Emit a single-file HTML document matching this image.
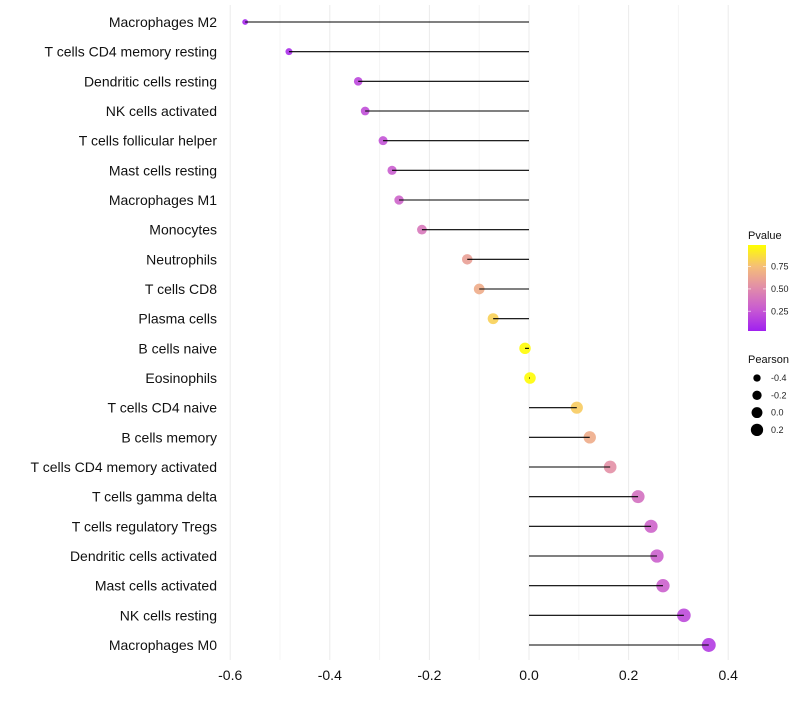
<!DOCTYPE html>
<html><head><meta charset="utf-8"><style>
body{margin:0;background:#fff;font-family:"Liberation Sans",sans-serif}
svg text{font-family:"Liberation Sans",sans-serif}
</style></head><body>
<svg id="c" width="800" height="700"></svg>
<script>
const cells=["Macrophages M2","T cells CD4 memory resting","Dendritic cells resting","NK cells activated","T cells follicular helper","Mast cells resting","Macrophages M1","Monocytes","Neutrophils","T cells CD8","Plasma cells","B cells naive","Eosinophils","T cells CD4 naive","B cells memory","T cells CD4 memory activated","T cells gamma delta","T cells regulatory  Tregs ","Dendritic cells activated","Mast cells activated","NK cells resting","Macrophages M0"];
const pearson=[-0.570,-0.482,-0.343,-0.329,-0.293,-0.275,-0.261,-0.215,-0.124,-0.100,-0.072,-0.008,0.002,0.096,0.122,0.163,0.219,0.245,0.257,0.269,0.311,0.361];
const pvalue=[0.03,0.06,0.17,0.2,0.22,0.27,0.3,0.4,0.6,0.66,0.82,0.99,0.99,0.8,0.66,0.52,0.36,0.3,0.28,0.28,0.18,0.12];
const xTicks=[-0.6,-0.4,-0.2,0.0,0.2,0.4];
const pTicks=[0.25,0.5,0.75];
const sizeLegend=[-0.4,-0.2,0.0,0.2];
const NS="http://www.w3.org/2000/svg";
const svg=document.getElementById('c');
function el(t,a,p){const e=document.createElementNS(NS,t);for(const k in a)e.setAttribute(k,a[k]);(p||svg).appendChild(e);return e;}
const x=v=>529+v*498;
const y=i=>22+i*(623/21);
const r=v=>Math.sqrt(Math.max(3,33+43*v));
function col(p){const st=[[0,[160,32,240]],[0.25,[200,90,210]],[0.5,[225,140,170]],[0.75,[245,190,120]],[1,[255,255,0]]];
for(let i=0;i<st.length-1;i++){const[a,c1]=st[i],[b,c2]=st[i+1];if(p<=b){const t=(p-a)/(b-a);return`rgb(${c1.map((c,j)=>Math.round(c+(c2[j]-c)*t)).join(',')})`;}}return'rgb(255,255,0)';}
for(let v=-0.6;v<=0.45;v+=0.1){const g=el('line',{x1:x(v),x2:x(v),y1:5,y2:660,stroke:Math.abs(Math.round(v*10))%2==0?'#ebebeb':'#f4f4f4','stroke-width':1});
}
xTicks.forEach(v=>{const t=el('text',{x:x(v),y:680,'text-anchor':'middle','font-size':14,fill:'#111'});t.textContent=v.toFixed(1);
});
cells.forEach((c,i)=>{
const t=el('text',{x:217,y:y(i)+5,'text-anchor':'end','font-size':14,fill:'#111'});t.textContent=c;

const d=el('circle',{cx:x(pearson[i]),cy:y(i),r:r(pearson[i]),fill:col(pvalue[i]),'fill-opacity':0.9});

const l=el('line',{x1:x(0),x2:x(pearson[i]),y1:y(i),y2:y(i),stroke:'#000','stroke-width':1.1});

});
const defs=el('defs',{});const lg=el('linearGradient',{id:'g',x1:0,y1:1,x2:0,y2:0},defs);
[0,0.25,0.5,0.75,1].forEach(p=>el('stop',{offset:p,'stop-color':col(p)},lg));
let t=el('text',{x:748,y:239,'font-size':11,fill:'#111'});t.textContent='Pvalue';
const cb=el('rect',{x:748,y:245,width:18,height:86,fill:'url(#g)'});
const py=p=>331-(p-0.03)/0.96*86;
pTicks.forEach(p=>{const tt=el('text',{x:771,y:py(p)+3,'font-size':9,fill:'#222'});tt.textContent=p.toFixed(2);

el('line',{x1:748,x2:751,y1:py(p),y2:py(p),stroke:'#fff','stroke-opacity':0.6});el('line',{x1:763,x2:766,y1:py(p),y2:py(p),stroke:'#fff','stroke-opacity':0.6});});
t=el('text',{x:748,y:363,'font-size':11,fill:'#111'});t.textContent='Pearson';
sizeLegend.forEach((v,i)=>{const cy=378+i*17.3;const c=el('circle',{cx:757,cy:cy,r:r(v)-0.3,fill:'#000'});

const tt=el('text',{x:771,y:cy+3,'font-size':9,fill:'#222'});tt.textContent=v.toFixed(1);
});
</script></body></html>
